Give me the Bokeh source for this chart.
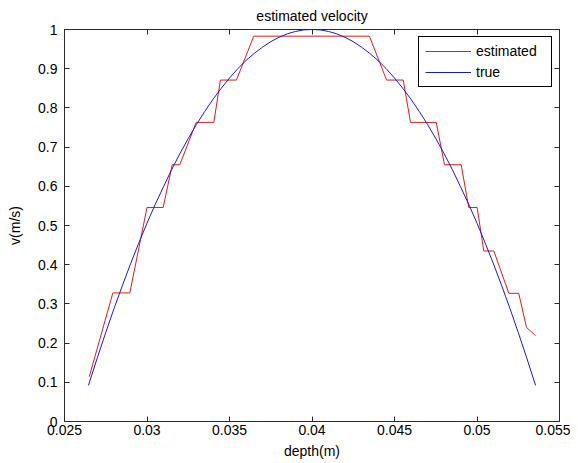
from bokeh.plotting import figure
from bokeh.models import FixedTicker, LinearAxis, Legend, LegendItem, Range1d
from bokeh.embed import file_html
from bokeh.resources import INLINE

# ---- data ----
est_depth = [0.02650, 0.02793, 0.02896, 0.03000, 0.03098, 0.03153, 0.03199,
             0.03298, 0.03405, 0.03445, 0.03542, 0.03647, 0.04348, 0.04452,
             0.04553, 0.04597, 0.04753, 0.04803, 0.04904, 0.04950, 0.05001,
             0.05041, 0.05102, 0.05193, 0.05253, 0.05300, 0.05355]
est_v = [0.114, 0.328, 0.328, 0.546, 0.546, 0.655, 0.655,
         0.763, 0.763, 0.871, 0.871, 0.983, 0.983, 0.871,
         0.871, 0.763, 0.763, 0.655, 0.655, 0.546, 0.546,
         0.435, 0.435, 0.327, 0.327, 0.240, 0.219]

true_depth = [0.02645, 0.0270, 0.0275, 0.0280, 0.0285, 0.0290, 0.0295, 0.0300,
              0.0305, 0.0310, 0.0315, 0.0320, 0.0325, 0.0330, 0.0335, 0.0340,
              0.0345, 0.0350, 0.0355, 0.0360, 0.0365, 0.0370, 0.0375, 0.0380,
              0.0385, 0.0390, 0.0395, 0.0400, 0.0405, 0.0410, 0.0415, 0.0420,
              0.0425, 0.0430, 0.0435, 0.0440, 0.0445, 0.0450, 0.0455, 0.0460,
              0.0465, 0.0470, 0.0475, 0.0480, 0.0485, 0.0490, 0.0495, 0.0500,
              0.0505, 0.0510, 0.0515, 0.0520, 0.0525, 0.0530, 0.05355]
true_v = [0.092, 0.164, 0.227, 0.288, 0.346, 0.402, 0.455, 0.506,
          0.554, 0.599, 0.643, 0.684, 0.722, 0.758, 0.791, 0.822,
          0.850, 0.876, 0.900, 0.921, 0.939, 0.955, 0.969, 0.980,
          0.989, 0.995, 0.999, 1.000, 0.999, 0.995, 0.989, 0.980,
          0.969, 0.955, 0.939, 0.921, 0.900, 0.876, 0.850, 0.822,
          0.791, 0.758, 0.722, 0.684, 0.643, 0.599, 0.554, 0.506,
          0.455, 0.402, 0.346, 0.288, 0.227, 0.164, 0.092]

x_ticks = [0.025, 0.03, 0.035, 0.04, 0.045, 0.05, 0.055]
x_tick_labels = ["0.025", "0.03", "0.035", "0.04", "0.045", "0.05", "0.055"]
y_ticks = [0.0, 0.1, 0.2, 0.3, 0.4, 0.5, 0.6, 0.7, 0.8, 0.9, 1.0]
y_tick_labels = ["0", "0.1", "0.2", "0.3", "0.4", "0.5", "0.6", "0.7", "0.8", "0.9", "1"]

FONT = "Liberation Sans"
AX = "#2a2a2a"

p = figure(width=570, height=462, output_backend="svg", toolbar_location=None,
           x_range=Range1d(0.025, 0.055), y_range=Range1d(0, 1),
           min_border_left=64, min_border_right=11, min_border_top=29,
           min_border_bottom=41, title="estimated velocity")
p.background_fill_color = "white"
p.border_fill_color = "white"
p.outline_line_color = AX
p.outline_line_alpha = 1
p.xgrid.grid_line_color = None
p.ygrid.grid_line_color = None

p.title.align = "center"
p.title.vertical_align = "middle"
p.title.text_font = FONT
p.title.text_font_size = "14px"
p.title.text_font_style = "normal"
p.title.text_color = "black"
p.title.standoff = 9

def style_axis(ax, ticks, labels):
    ax.ticker = FixedTicker(ticks=ticks)
    ax.major_label_overrides = {t: s for t, s in zip(ticks, labels)}
    ax.major_tick_in = 5
    ax.major_tick_out = 0
    ax.minor_tick_line_color = None
    ax.axis_line_color = AX
    ax.major_tick_line_color = AX
    ax.major_label_text_font = FONT
    ax.major_label_text_font_size = "14px"
    ax.major_label_text_color = "black"
    ax.axis_label_text_font = FONT
    ax.axis_label_text_font_size = "14px"
    ax.axis_label_text_font_style = "normal"
    ax.axis_label_text_color = "black"

style_axis(p.xaxis[0], x_ticks, x_tick_labels)
style_axis(p.yaxis[0], y_ticks, y_tick_labels)
p.xaxis.axis_label = "depth(m)"
p.yaxis.axis_label = "v(m/s)"
p.xaxis.major_label_standoff = 3
p.xaxis.axis_label_standoff = 5
p.yaxis.major_label_standoff = 7
p.yaxis.axis_label_standoff = 12

# mirrored tick axes on top and right (MATLAB box), labels not drawn
top = LinearAxis(ticker=FixedTicker(ticks=x_ticks), major_tick_in=5, major_tick_out=0,
                 minor_tick_line_color=None, axis_line_color=AX, major_tick_line_color=AX,
                 major_label_text_font_size="1px", major_label_text_color=None,
                 major_label_standoff=0)
right = LinearAxis(ticker=FixedTicker(ticks=y_ticks), major_tick_in=5, major_tick_out=0,
                   minor_tick_line_color=None, axis_line_color=AX, major_tick_line_color=AX,
                   major_label_text_font_size="1px", major_label_text_color=None,
                   major_label_standoff=0)
p.add_layout(top, "above")
p.add_layout(right, "right")

r1 = p.line(est_depth, est_v, line_color="#e31a1a", line_width=1)
r2 = p.line(true_depth, true_v, line_color="#1a1ad0", line_width=1)

legend = Legend(items=[LegendItem(label="estimated", renderers=[r1]),
                       LegendItem(label="true", renderers=[r2])],
                location="top_right", margin=7, padding=6, spacing=5,
                glyph_width=46, glyph_height=14, label_height=14, label_width=69,
                label_standoff=5, label_text_font=FONT, label_text_font_size="14px",
                label_text_color="black", border_line_color="black",
                border_line_width=1, border_line_alpha=1,
                background_fill_color="white", background_fill_alpha=1)
p.add_layout(legend)

open("out.html", "w").write(file_html(p, INLINE))
